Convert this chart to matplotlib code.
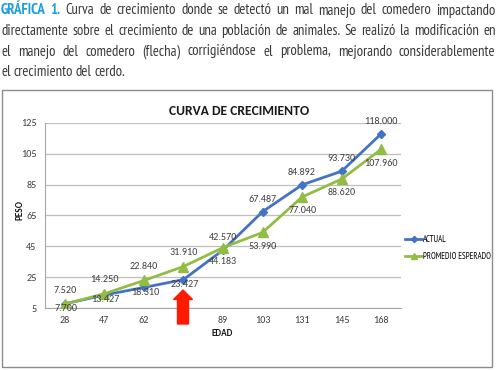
import numpy as np
import matplotlib
matplotlib.use("Agg")
import matplotlib.pyplot as plt
from matplotlib.patches import Rectangle, Polygon

edad = ["28", "47", "62", "", "89", "103", "131", "145", "168"]
actual = [7.700, 13.427, 18.310, 23.427, 42.570, 67.487, 84.892, 93.730, 118.000]
esperado = [7.520, 14.250, 22.840, 31.910, 44.183, 53.990, 77.040, 88.620, 107.960]
y_ticks = [5, 25, 45, 65, 85, 105, 125]

caption = [
    "GRÁFICA 1. Curva de crecimiento donde se detectó un mal manejo del comedero impactando",
    "directamente sobre el crecimiento de una población de animales. Se realizó la modificación en",
    "el manejo del comedero (flecha) corrigiéndose el problema, mejorando considerablemente",
    "el crecimiento del cerdo.",
]

W, H = 500, 370
BLUE = "#4472C4"
GREEN = "#92BD44"
CAP_FONT = ["PT Sans Narrow", "DejaVu Sans"]
CHART_FONT = ["Carlito", "DejaVu Sans"]

fig = plt.figure(figsize=(W / 100, H / 100), dpi=100)


def px(x, y):
    return x / W, 1 - y / H


# caption, justified like the source
renderer = fig.canvas.get_renderer()
top_y = [3.5, 24, 44.5, 65]
for li, line in enumerate(caption):
    words = line.split(" ")
    objs = []
    for wi, w in enumerate(words):
        if li == 0 and wi < 2:
            t = fig.text(0, 0, w, color="#1E9FDA", fontweight="bold",
                         family=CAP_FONT, fontsize=10.6, va="top")
        else:
            t = fig.text(0, 0, w, color="#3a3a3a",
                         family=CAP_FONT, fontsize=10.6, va="top")
        objs.append(t)
    widths = [o.get_window_extent(renderer).width for o in objs]
    x0, x1 = 1.0, 495.5
    if li < len(caption) - 1:
        gap = (x1 - x0 - sum(widths)) / (len(objs) - 1)
    else:
        gap = 3.0
    x = x0
    for o, w in zip(objs, widths):
        o.set_position(px(x, top_y[li]))
        x += w + gap

# chart frame
fig.patches.append(Rectangle(px(2, 367), 490 / W, 277 / H, transform=fig.transFigure,
                             fill=False, edgecolor="#8c8c8c", linewidth=1.0))

ax = fig.add_axes([45 / W, 62 / H, 356 / W, 185 / H])
x = np.arange(len(edad))
ax.plot(x, actual, color=BLUE, linewidth=2, marker="D", markersize=4.5,
        label="ACTUAL", zorder=3)
ax.plot(x, esperado, color=GREEN, linewidth=2, marker="^", markersize=7,
        label="PROMEDIO ESPERADO", zorder=3)

lbl = dict(textcoords="offset points", ha="center", va="center",
           fontsize=7.3, color="#404040", family=CHART_FONT)
for i in range(len(edad)):
    if i < 4:
        ax.annotate("{:.3f}".format(esperado[i]), (x[i], esperado[i]), xytext=(0, 10), **lbl)
        ax.annotate("{:.3f}".format(actual[i]), (x[i], actual[i]), xytext=(1, -3.5), **lbl)
    else:
        ax.annotate("{:.3f}".format(actual[i]), (x[i], actual[i]), xytext=(0, 9), **lbl)
        ax.annotate("{:.3f}".format(esperado[i]), (x[i], esperado[i]), xytext=(0, -10), **lbl)

ax.set_xlim(-0.5, len(edad) - 0.5)
ax.set_ylim(5, 125)
ax.set_yticks(y_ticks)
ax.set_xticks(x)
ax.set_xticklabels(edad)
ax.tick_params(length=0, labelsize=7.3, labelcolor="#404040", pad=6)
for lab in ax.get_xticklabels() + ax.get_yticklabels():
    lab.set_family(CHART_FONT)
ax.grid(axis="y", color="#bfbfbf", linewidth=0.9)
ax.set_axisbelow(True)
for s in ["top", "right"]:
    ax.spines[s].set_visible(False)
ax.spines["left"].set_color("#a6a6a6")
ax.spines["bottom"].set_color("#a6a6a6")

fig.text(*px(239, 111.5), "CURVA DE CRECIMIENTO", ha="center", va="center",
         fontsize=9.8, fontweight="bold", family=CHART_FONT, color="#1a1a1a")
fig.text(*px(20, 210), "PESO", ha="center", va="center", rotation=90,
         fontsize=6.6, fontweight="bold", family=CHART_FONT, color="#1a1a1a")
fig.text(*px(222, 333), "EDAD", ha="center", va="center",
         fontsize=6.6, fontweight="bold", family=CHART_FONT, color="#1a1a1a")

# red arrow under the 4th category (pixel outline)
arrow_px = [(183, 290), (192.5, 299.5), (188.5, 299.5), (188.5, 324),
            (177.5, 324), (177.5, 299.5), (173.5, 299.5)]
fig.patches.append(Polygon([px(a, b) for a, b in arrow_px], closed=True,
                           transform=fig.transFigure, color="#ff1a00", zorder=5))

fig.legend(loc="upper left", bbox_to_anchor=px(401, 231), frameon=False,
           handlelength=1.9, handletextpad=0.15, labelspacing=0.9, markerscale=0.7,
           borderpad=0, prop={"family": CAP_FONT, "size": 6.3})

fig.savefig("out.png", dpi=100)
